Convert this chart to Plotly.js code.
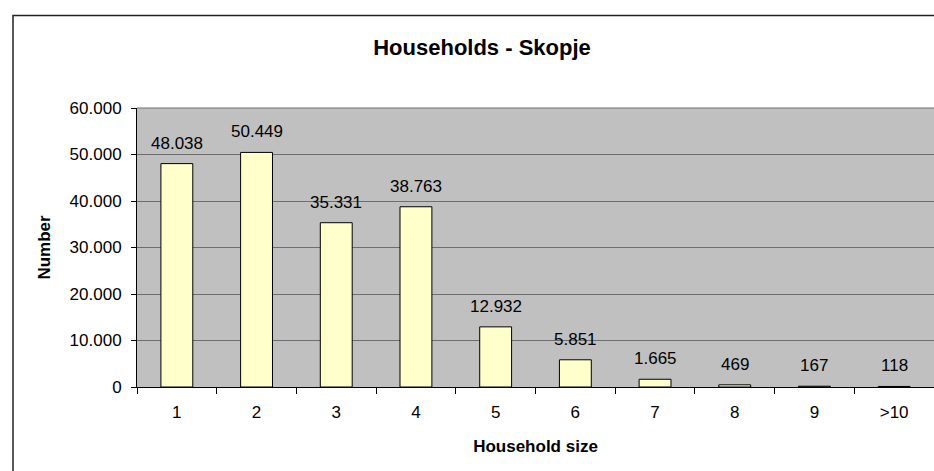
<!DOCTYPE html>
<html>
<head>
<meta charset="utf-8">
<script src="https://cdn.plot.ly/plotly-3.0.1.min.js"></script>
<style>
html,body{margin:0;padding:0;background:#fff;}
#chart{width:934px;height:471px;}
</style>
</head>
<body>
<div id="chart"></div>
<script>
const categories = ['1','2','3','4','5','6','7','8','9','>10'];
const households = [48038, 50449, 35331, 38763, 12932, 5851, 1665, 469, 167, 118];
const yTickValues = [0, 10000, 20000, 30000, 40000, 50000, 60000];

function fmt(v){
  return String(v).replace(/\B(?=(\d{3})+(?!\d))/g, '.');
}

const FONT = 'Liberation Sans, Arial, sans-serif';

const trace = {
  type: 'bar',
  x: categories,
  y: households,
  marker: {color: '#FFFFCC', line: {color: '#000000', width: 1}},
  hoverinfo: 'none'
};

const labelAnnotations = categories.map((c, i) => ({
  x: i, y: households[i], xref: 'x', yref: 'y',
  text: fmt(households[i]), showarrow: false,
  yanchor: 'bottom', yshift: 9,
  font: {family: FONT, size: 17, color: '#000'}
}));

const layout = {
  width: 934, height: 471,
  margin: {l: 137, r: 0, t: 108, b: 84, pad: 0},
  paper_bgcolor: '#FFFFFF',
  plot_bgcolor: '#C0C0C0',
  separators: ',.',
  bargap: 0.6,
  showlegend: false,
  font: {family: FONT, size: 17, color: '#000'},
  title: {
    text: 'Households - Skopje',
    font: {family: FONT, size: 22, color: '#000', weight: 'bold'},
    xref: 'container', yref: 'container',
    x: 482/934, xanchor: 'center',
    y: 1 - 47/471, yanchor: 'middle'
  },
  xaxis: {
    type: 'category',
    tickson: 'boundaries',
    ticks: 'outside', ticklen: 6, tickcolor: '#000', tickwidth: 1,
    ticklabelstandoff: 10,
    showline: true, linecolor: '#000', linewidth: 1,
    showgrid: false, zeroline: false,
    tickfont: {size: 17},
    title: {text: 'Household size', standoff: 18,
      font: {size: 17, weight: 'bold'}},
    fixedrange: true
  },
  yaxis: {
    range: [0, 60000],
    tickvals: yTickValues,
    ticktext: yTickValues.map(fmt),
    ticks: 'outside', ticklen: 5, tickcolor: '#000', tickwidth: 1,
    ticklabelstandoff: 6,
    showline: true, linecolor: '#000', linewidth: 1,
    showgrid: true, gridcolor: '#6E6E6E', gridwidth: 1,
    zeroline: false,
    tickfont: {size: 17},
    title: {text: 'Number', standoff: 14,
      font: {size: 17, weight: 'bold'}},
    fixedrange: true
  },
  annotations: labelAnnotations,
  shapes: [{
    type: 'rect', xref: 'paper', yref: 'paper',
    x0: (13-137)/797, x1: 1.2, y0: -0.6, y1: 1 + (108-15.5)/279,
    line: {color: '#222', width: 1.5}, fillcolor: 'rgba(0,0,0,0)', layer: 'below'
  }, {
    type: 'line', xref: 'paper', yref: 'paper', x0: 0, x1: 1, y0: 1, y1: 1,
    line: {color: '#6E6E6E', width: 1}
  }]
};

Plotly.newPlot('chart', [trace], layout, {displayModeBar: false, staticPlot: true});
</script>
</body>
</html>
